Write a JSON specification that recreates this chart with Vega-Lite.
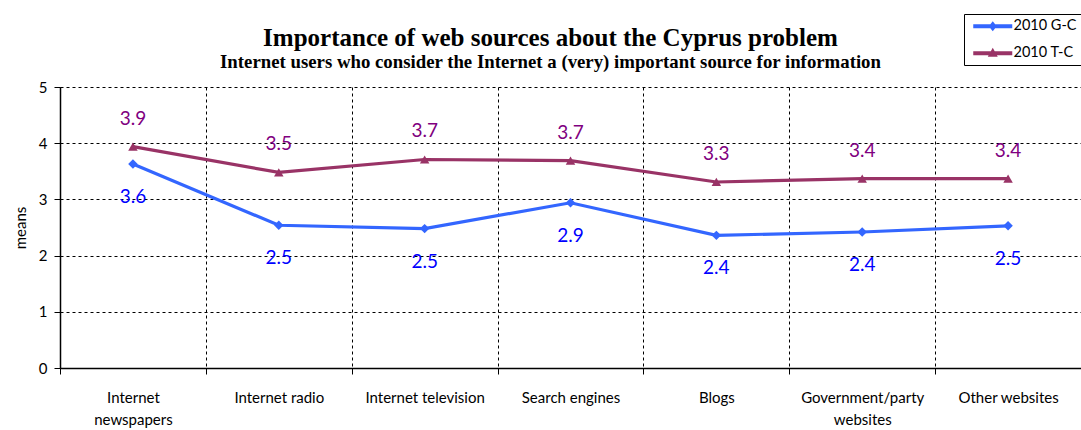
{
  "$schema": "https://vega.github.io/schema/vega-lite/v6.json",
  "width": 1021,
  "height": 281,
  "autosize": {"type": "none"},
  "padding": {"left": 60, "top": 87, "right": 0, "bottom": 62},
  "background": "white",
  "title": {
    "text": "Importance of web sources about the Cyprus problem",
    "subtitle": "Internet users who consider the Internet a (very) important source for information",
    "anchor": "middle",
    "frame": "group",
    "dx": -20,
    "offset": -58,
    "font": "Liberation Serif",
    "fontSize": 25,
    "fontWeight": "bold",
    "color": "black",
    "subtitleFont": "Liberation Serif",
    "subtitleFontSize": 18.8,
    "subtitleFontWeight": "bold",
    "subtitleColor": "black",
    "subtitlePadding": 2
  },
  "data": {
    "values": [
      {"source": "Internet newspapers", "series": "2010 G-C", "mean": 3.63},
      {"source": "Internet radio", "series": "2010 G-C", "mean": 2.54},
      {"source": "Internet television", "series": "2010 G-C", "mean": 2.48},
      {"source": "Search engines", "series": "2010 G-C", "mean": 2.94},
      {"source": "Blogs", "series": "2010 G-C", "mean": 2.36},
      {"source": "Government/party websites", "series": "2010 G-C", "mean": 2.42},
      {"source": "Other websites", "series": "2010 G-C", "mean": 2.53},
      {"source": "Internet newspapers", "series": "2010 T-C", "mean": 3.94},
      {"source": "Internet radio", "series": "2010 T-C", "mean": 3.48},
      {"source": "Internet television", "series": "2010 T-C", "mean": 3.71},
      {"source": "Search engines", "series": "2010 T-C", "mean": 3.69},
      {"source": "Blogs", "series": "2010 T-C", "mean": 3.31},
      {"source": "Government/party websites", "series": "2010 T-C", "mean": 3.37},
      {"source": "Other websites", "series": "2010 T-C", "mean": 3.37}
    ]
  },
  "encoding": {
    "x": {
      "field": "source",
      "type": "nominal",
      "sort": null,
      "scale": {"paddingInner": 0, "paddingOuter": 0},
      "axis": {
        "title": null,
        "labelAngle": 0,
        "labelFont": "Lato",
        "labelFontSize": 15,
        "labelColor": "black",
        "labelPadding": 16,
        "labelLineHeight": 22,
        "labelBaseline": "top",
        "labelExpr": "datum.label == 'Internet newspapers' ? ['Internet', 'newspapers'] : datum.label == 'Government/party websites' ? ['Government/party', 'websites'] : datum.label",
        "tickBand": "extent",
        "ticks": true,
        "tickColor": "black",
        "tickSize": 6,
        "domainColor": "black",
        "domainWidth": 1.5,
        "grid": true,
        "gridColor": "black",
        "gridDash": [3, 3],
        "gridWidth": 1,
        "gridOpacity": 1
      }
    },
    "y": {
      "field": "mean",
      "type": "quantitative",
      "scale": {"domain": [0, 5], "nice": false},
      "axis": {
        "title": "means",
        "titleFont": "Lato",
        "titleFontSize": 15,
        "titleFontWeight": "normal",
        "titleColor": "black",
        "titlePadding": 10,
        "values": [0, 1, 2, 3, 4, 5],
        "labelFont": "Lato",
        "labelFontSize": 15,
        "labelColor": "black",
        "labelPadding": 7,
        "tickColor": "black",
        "tickSize": 6,
        "domainColor": "black",
        "domainWidth": 1.5,
        "grid": true,
        "gridColor": "black",
        "gridDash": [3, 3],
        "gridWidth": 1,
        "gridOpacity": 1
      }
    },
    "color": {
      "field": "series",
      "type": "nominal",
      "scale": {"domain": ["2010 G-C", "2010 T-C"], "range": ["#3366FF", "#993366"]},
      "legend": {
        "title": null,
        "orient": "none",
        "legendX": 904,
        "legendY": -73,
        "strokeColor": "black",
        "fillColor": "white",
        "padding": 5,
        "rowPadding": 12,
        "symbolType": "M-0.6,-0.4H7.2V0.4H-0.6Z",
        "symbolSize": 100,
        "symbolStrokeWidth": 0,
        "symbolOpacity": 1,
        "labelFont": "Lato",
        "labelFontSize": 14.5,
        "labelColor": "black",
        "labelOffset": 30,
        "encode": {
          "symbols": {
            "update": {
              "shape": {"signal": "datum.value == '2010 G-C' ? 'M-0.6,-0.4H7.2V0.4H-0.6Z M3.3,-1L4.1,0L3.3,1L2.5,0Z' : 'M-0.6,-0.4H7.2V0.4H-0.6Z M3.3,-1.1L4.3,0.7L2.3,0.7Z'"},
              "fill": {"signal": "datum.value == '2010 G-C' ? '#3366FF' : '#993366'"},
              "strokeWidth": {"value": 0}
            }
          }
        }
      }
    }
  },
  "layer": [
    {
      "mark": {"type": "line", "strokeWidth": 3.2}
    },
    {
      "transform": [{"filter": "datum.series == '2010 G-C'"}],
      "mark": {"type": "point", "filled": true, "opacity": 1, "size": 90, "shape": "diamond"}
    },
    {
      "transform": [{"filter": "datum.series == '2010 T-C'"}],
      "mark": {"type": "point", "filled": true, "opacity": 1, "size": 90, "shape": "triangle-up"}
    },
    {
      "transform": [{"filter": "datum.series == '2010 T-C'"}],
      "mark": {"type": "text", "dy": -28, "font": "Lato", "fontSize": 19, "baseline": "middle"},
      "encoding": {
        "text": {"field": "mean", "type": "quantitative", "format": ".1f"},
        "color": {"value": "#800080"}
      }
    },
    {
      "transform": [{"filter": "datum.series == '2010 G-C'"}],
      "mark": {"type": "text", "dy": 33, "font": "Lato", "fontSize": 19, "baseline": "middle"},
      "encoding": {
        "text": {"field": "mean", "type": "quantitative", "format": ".1f"},
        "color": {"value": "#0000FF"}
      }
    }
  ],
  "config": {"view": {"stroke": null}}
}
